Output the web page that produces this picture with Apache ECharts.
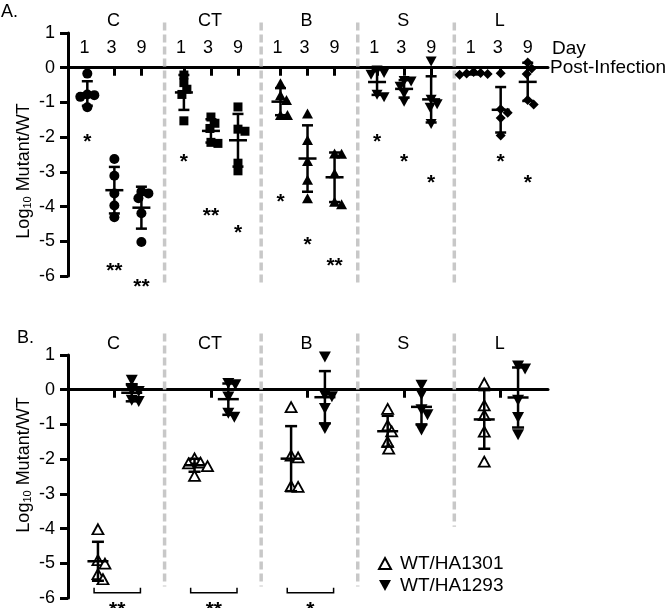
<!DOCTYPE html>
<html>
<head>
<meta charset="utf-8">
<script src="https://cdn.jsdelivr.net/npm/echarts@6/dist/echarts.min.js"></script>
<style>
  html, body { margin: 0; padding: 0; background: #fff; }
  #chart { width: 672px; height: 608px; }
</style>
</head>
<body>
<div id="chart"></div>
<script>
const groups = ['C', 'CT', 'B', 'S', 'L'];
const dayLabels = ['1', '3', '9'];

// Panel A: log10 mutant/WT, five mice per organ, days 1 / 3 / 9
const dayC = [[-0.17, -0.79, -0.77, -0.84, -1.14], [-2.63, -3.11, -3.62, -3.97, -4.31], [-3.57, -3.62, -3.76, -4.19, -5.02]];
const dayCT = [[-0.21, -0.43, -0.62, -0.77, -1.53], [-1.42, -1.6, -1.75, -2.15, -2.18], [-1.13, -1.77, -1.83, -2.75, -2.97]];
const dayB = [[-0.45, -0.79, -0.93, -1.36, -1.36], [-1.32, -2.08, -2.69, -3.23, -3.76], [-2.47, -2.48, -3.04, -3.86, -3.93]];
const dayS = [[-0.08, -0.15, -0.2, -0.78, -0.85], [-0.38, -0.4, -0.55, -0.74, -0.98], [0.18, -0.92, -1.05, -1.15, -1.62]];
const dayL = [[-0.12, -0.15, -0.17, -0.18, -0.2], [-0.16, -1.2, -1.3, -1.45, -1.95], [0.15, -0.02, -0.18, -0.93, -1.06]];
// significance marks and the level they sit at
const starsA = [['*', '**', '**'], ['*', '**', '*'], ['*', '*', '**'], ['*', '*', '*'], ['', '*', '*']];
const starsAy = [[-2.0, -5.73, -6.19], [-2.57, -4.12, -4.62], [-3.73, -4.96, -5.58], [-2.0, -2.58, -3.18], [0, -2.58, -3.18]];

// Panel B: competitions per organ
const ha1301 = [[-4.02, -4.91, -5.01, -5.31, -5.46], [-1.98, -2.1, -2.12, -2.2, -2.48], [-0.5, -1.9, -1.95, -2.78, -2.8], [-0.55, -1.03, -1.2, -1.5, -1.7], [0.18, -0.45, -0.73, -1.21, -2.07]];
const ha1293 = [[0.27, -0.02, -0.05, -0.3, -0.34], [0.18, 0.14, -0.21, -0.68, -0.79], [0.94, -0.16, -0.2, -0.54, -1.12], [0.13, -0.14, -0.58, -0.72, -1.16], [0.68, 0.6, -0.3, -0.8, -1.3]];
const starsB = ['**', '**', '*', '', ''];

const FONT = '"Liberation Sans", Arial, Helvetica, sans-serif';
const GRID_W = 480, GRID_H = 243, X_MAX = 4.97;
const PX_X = GRID_W / X_MAX, PX_Y = GRID_H / 7;
const DAY_POS = [0.2, 0.48, 0.76];
const DAY_LABEL_POS = [0.17, 0.45, 0.76];
const PAIR_POS = [0.31, 0.66];
const SEP_GRAY = '#c8c8c8';
const DOWN_TRI = 'path://M0,0 L10,0 L5,9 Z';

// spread the points of one column sideways so they don't sit on each other
function swarm(values, center, r) {
  const placed = [];
  const order = values.map((v, i) => i).sort((a, b) => values[b] - values[a]);
  order.forEach(i => {
    const yp = values[i] * PX_Y;
    let dx = 0;
    for (let k = 0; k < 60; k++) {
      const cand = k === 0 ? 0 : (k % 2 ? 1 : -1) * Math.ceil(k / 2);
      if (placed.every(p => Math.hypot(p[0] - cand, p[1] - yp) >= r)) { dx = cand; break; }
    }
    placed.push([dx, yp, i]);
  });
  return placed.map(p => [center + p[0] / PX_X, values[p[2]]]);
}

function meanSd(values) {
  const m = values.reduce((a, b) => a + b, 0) / values.length;
  const v = values.reduce((a, b) => a + (b - m) * (b - m), 0) / (values.length - 1);
  return [m, Math.sqrt(v)];
}

function errItem(cap, bar) {
  return function (params, api) {
    const x = api.value(0), m = api.value(1), s = api.value(2);
    const t = api.coord([x, m + s]), b = api.coord([x, m - s]), c = api.coord([x, m]);
    const style = { stroke: '#000', lineWidth: 2.5 };
    const seg = (x1, y1, x2, y2) => ({ type: 'line', shape: { x1, y1, x2, y2 }, style });
    return {
      type: 'group', children: [
        seg(t[0], t[1], b[0], b[1]),
        seg(t[0] - cap / 2, t[1], t[0] + cap / 2, t[1]),
        seg(b[0] - cap / 2, b[1], b[0] + cap / 2, b[1]),
        seg(c[0] - bar / 2, c[1], c[0] + bar / 2, c[1])
      ]
    };
  };
}

function sepItem(params, api) {
  const p1 = api.coord([api.value(0), api.value(1)]);
  const p2 = api.coord([api.value(0), api.value(2)]);
  return {
    type: 'line', shape: { x1: p1[0], y1: p1[1], x2: p2[0], y2: p2[1] },
    style: { stroke: SEP_GRAY, lineWidth: 3.5, lineDash: [8, 4] }
  };
}

// asterisk text, centred on the glyph rather than the text box
function starText(x, y, text) {
  return {
    type: 'text', x: x, y: y + 5,
    style: { text: text, fontSize: 21, fontWeight: 'bold', fontFamily: FONT, fill: '#000', align: 'center', verticalAlign: 'middle' }
  };
}

function starItem(params, api) {
  const p = api.coord([api.value(0), api.value(1)]);
  return starText(p[0], p[1], starsA[api.value(2)][api.value(3)]);
}

function bracketItem(params, api) {
  const a = api.coord([api.value(0), api.value(2)]);
  const b = api.coord([api.value(1), api.value(2)]);
  const style = { stroke: '#000', lineWidth: 1.5, fill: null };
  return {
    type: 'group', children: [
      { type: 'polyline', shape: { points: [[a[0], a[1] - 5], a, b, [b[0], b[1] - 5]] }, style },
      starText((a[0] + b[0]) / 2, a[1] + 12, starsB[api.value(3)])
    ]
  };
}

const panelA = [dayC, dayCT, dayB, dayS, dayL];
const symA = [
  { symbol: 'circle', symbolSize: 10 },
  { symbol: 'rect', symbolSize: 9 },
  { symbol: 'triangle', symbolSize: [11, 10] },
  { symbol: DOWN_TRI, symbolSize: [11, 10] },
  { symbol: 'diamond', symbolSize: [10, 10] }
];

const series = [];
const errA = [], starDataA = [];
panelA.forEach((organ, g) => {
  let pts = [];
  organ.forEach((vals, d) => {
    const cx = g + DAY_POS[d];
    pts = pts.concat(swarm(vals, cx, 7));
    const ms = meanSd(vals);
    errA.push([cx, ms[0], ms[1]]);
    if (starsA[g][d]) starDataA.push([cx, starsAy[g][d], g, d]);
  });
  series.push(Object.assign({
    type: 'scatter', xAxisIndex: 0, yAxisIndex: 0, data: pts, z: 3,
    itemStyle: { color: '#000', opacity: 1 }, clip: false
  }, symA[g]));
});

series.push({
  type: 'custom', xAxisIndex: 0, yAxisIndex: 0, z: 4, data: errA,
  renderItem: errItem(11, 18), clip: false
});
series.push({
  type: 'custom', xAxisIndex: 0, yAxisIndex: 0, z: 4, data: starDataA,
  renderItem: starItem, clip: false
});
series.push({
  type: 'custom', xAxisIndex: 0, yAxisIndex: 0, z: 1,
  data: [[1, 1.3, -6.25], [2, 1.3, -6.25], [3, 1.3, -6.25], [4, 1.3, -6.25]],
  renderItem: sepItem
});

// panel B
const ptsB1 = [], ptsB2 = [], errB = [], brackets = [];
groups.forEach((name, g) => {
  const x1 = g + PAIR_POS[0], x2 = g + PAIR_POS[1];
  swarm(ha1301[g], x1, 7).forEach(p => ptsB1.push(p));
  swarm(ha1293[g], x2, 7).forEach(p => ptsB2.push(p));
  const a = meanSd(ha1301[g]), b = meanSd(ha1293[g]);
  errB.push([x1, a[0], a[1]], [x2, b[0], b[1]]);
  if (starsB[g]) brackets.push([g + 0.27, g + 0.75, -5.85, g]);
});
series.push({
  name: 'WT/HA1301', type: 'scatter', xAxisIndex: 2, yAxisIndex: 1, data: ptsB1, z: 3, clip: false,
  symbol: 'triangle', symbolSize: [11, 10],
  itemStyle: { color: '#fff', borderColor: '#000', borderWidth: 1.8, opacity: 1 }
});
series.push({
  name: 'WT/HA1293', type: 'scatter', xAxisIndex: 2, yAxisIndex: 1, data: ptsB2, z: 3, clip: false,
  symbol: DOWN_TRI, symbolSize: [12, 11],
  itemStyle: { color: '#000', opacity: 1 }
});
series.push({
  type: 'custom', xAxisIndex: 2, yAxisIndex: 1, z: 4, data: errB,
  renderItem: errItem(12, 21), clip: false
});
series.push({
  type: 'custom', xAxisIndex: 2, yAxisIndex: 1, z: 4, data: brackets,
  renderItem: bracketItem, clip: false
});
series.push({
  type: 'custom', xAxisIndex: 2, yAxisIndex: 1, z: 1,
  data: [[1, 1.62, -5.67], [2, 1.62, -5.67], [3, 1.62, -5.67], [4, 1.62, -3.95]],
  renderItem: sepItem
});

const dayLabelVals = [], dayTickVals = [], groupVals = [], midTicks = [];
const labelText = {};
groups.forEach((name, g) => {
  DAY_LABEL_POS.forEach((p, d) => { dayLabelVals.push(g + p); labelText[(g + p).toFixed(3)] = dayLabels[d]; });
  DAY_POS.forEach(p => dayTickVals.push(g + p));
  groupVals.push(g + 0.47); labelText[(g + 0.47).toFixed(3)] = name;
  midTicks.push(g + 0.48);
});
const lookup = v => labelText[v.toFixed(3)] || '';

const black = { color: '#000', width: 3 };
function zeroAxis(grid, ticks, name) {
  return {
    type: 'value', gridIndex: grid, min: 0, max: X_MAX, position: 'bottom',
    axisLine: { onZero: true, lineStyle: black },
    axisTick: { show: true, customValues: ticks, length: 8, lineStyle: black },
    axisLabel: { show: false },
    splitLine: { show: false },
    name: name || '', nameLocation: 'end', nameGap: 2,
    nameTextStyle: { fontSize: 19, fontFamily: FONT, color: '#000', align: 'left', verticalAlign: 'middle', padding: [4, 0, 0, 0] }
  };
}
function labelAxis(grid, values, margin, inside) {
  return {
    type: 'value', gridIndex: grid, min: 0, max: X_MAX, position: 'top',
    axisLine: { show: false, onZero: false }, axisTick: { show: false }, splitLine: { show: false },
    axisLabel: { customValues: values, formatter: lookup, inside: inside, margin: margin, fontSize: 18, fontFamily: FONT, color: '#000' }
  };
}
function valueAxis(grid) {
  return {
    type: 'value', gridIndex: grid, min: -6, max: 1, interval: 1,
    axisLine: { show: true, onZero: false, lineStyle: black },
    axisTick: { show: true, length: 8, lineStyle: black },
    axisLabel: { margin: 13, fontSize: 18, fontFamily: FONT, color: '#000' },
    splitLine: { show: false }
  };
}

const yTitle = (y) => ({
  type: 'text', x: 24, y: y, rotation: Math.PI / 2,
  style: {
    text: '{m|Log}{s|10}{m| Mutant/WT}', align: 'center', verticalAlign: 'middle', fill: '#000',
    rich: {
      m: { fontSize: 18, fontFamily: FONT, color: '#000' },
      s: { fontSize: 11, fontFamily: FONT, color: '#000', verticalAlign: 'bottom', padding: [6, 0, 0, 0] }
    }
  }
});

const chart = echarts.init(document.getElementById('chart'));
chart.setOption({
  animation: false,
  backgroundColor: '#fff',
  textStyle: { fontFamily: FONT },
  grid: [
    { left: 68, top: 33, width: GRID_W, height: GRID_H },
    { left: 68, top: 355, width: GRID_W, height: GRID_H }
  ],
  xAxis: [
    zeroAxis(0, dayTickVals, 'Post-Infection'),
    labelAxis(0, groupVals, 3, false),
    zeroAxis(1, midTicks, ''),
    labelAxis(1, groupVals, 2, false),
    labelAxis(0, dayLabelVals, 6, true)
  ],
  yAxis: [valueAxis(0), valueAxis(1)],
  legend: {
    data: ['WT/HA1301', 'WT/HA1293'], orient: 'vertical', left: 373, top: 549,
    itemWidth: 12, itemHeight: 11, itemGap: 3,
    textStyle: { fontSize: 19, fontFamily: FONT, color: '#000', padding: [0, 0, 0, 4] }
  },
  graphic: [
    { type: 'text', left: 1, top: 3, style: { text: 'A.', fontSize: 18, fontFamily: FONT, fill: '#000' } },
    { type: 'text', left: 17, top: 329, style: { text: 'B.', fontSize: 18, fontFamily: FONT, fill: '#000' } },
    { type: 'text', left: 552, top: 39, style: { text: 'Day', fontSize: 19, fontFamily: FONT, fill: '#000' } },
    yTitle(171),
    yTitle(465)
  ],
  series: series
});
</script>
</body>
</html>
